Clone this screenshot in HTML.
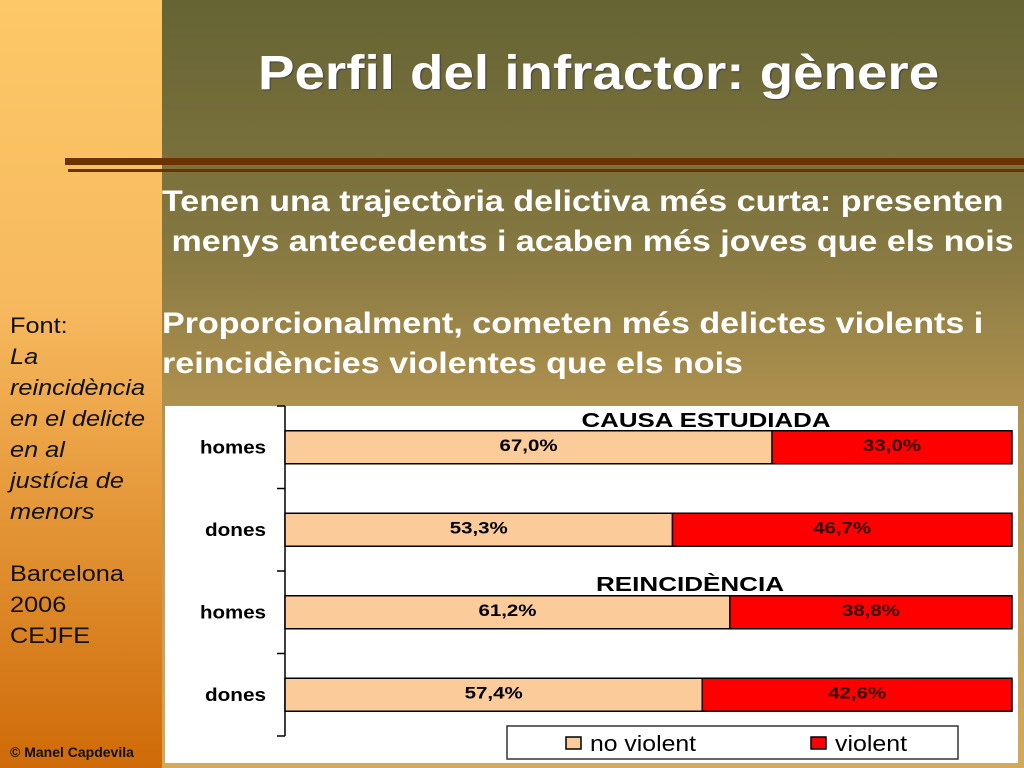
<!DOCTYPE html>
<html><head><meta charset="utf-8"><style>
body{margin:0;width:1024px;height:768px;overflow:hidden;position:relative;font-family:"Liberation Sans",sans-serif}
#left{position:absolute;left:0;top:0;width:162px;height:768px;background:linear-gradient(#fcc868 0%,#f7b95e 40%,#de8c2c 75%,#cf6a08 100%)}
#main{position:absolute;left:162px;top:0;width:862px;height:768px;background:linear-gradient(#666434 0%,#827640 30%,#b39450 55%,#d4a95a 100%)}
.t{position:absolute;color:#fff;font-weight:bold;transform-origin:0 0;white-space:nowrap}
.src{position:absolute;left:10px;font-size:22px;color:#111;line-height:31px;transform:scaleX(1.15);transform-origin:0 0;white-space:nowrap}
</style></head><body>
<div id="left"></div>
<div id="main"></div>
<div class="t" style="left:258px;top:46px;font-size:48px;transform:scaleX(1.14);text-shadow:1px 1px 1px #444">Perfil del infractor: gènere</div>
<div style="position:absolute;left:65px;top:158px;width:959px;height:7px;background:#6b3300"></div>
<div style="position:absolute;left:68px;top:169px;width:956px;height:3px;background:#6b3300"></div>
<div class="t" style="left:162px;top:182px;font-size:30px;line-height:40px;transform:scaleX(1.135)">Tenen una trajectòria delictiva més curta: presenten<br>&nbsp;menys antecedents i acaben més joves que els nois</div>
<div class="t" style="left:162px;top:304px;font-size:30px;line-height:40px;transform:scaleX(1.135)">Proporcionalment, cometen més delictes violents i<br>reincidències violentes que els nois</div>
<div class="src" style="top:310px">Font:<br><i>La<br>reincidència<br>en el delicte<br>en al<br>justícia de<br>menors</i><br><br>Barcelona<br>2006<br>CEJFE</div>
<div style="position:absolute;left:10px;top:744px;font-size:14px;font-weight:bold;color:#111">© Manel Capdevila</div>
<svg id="chart" style="position:absolute;left:0;top:0" width="1024" height="768"></svg>
<script>
const categories=["homes","dones","homes","dones"];
const noViolent=[67.0,53.3,61.2,57.4];
const violent=[33.0,46.7,38.8,42.6];
const labelsNo=["67,0%","53,3%","61,2%","57,4%"];
const labelsV=["33,0%","46,7%","38,8%","42,6%"];
const ns="http://www.w3.org/2000/svg";
const svg=document.getElementById('chart');
const FF='Liberation Sans, sans-serif';
function mk(t,a,p){const e=document.createElementNS(ns,t);for(const k in a)e.setAttribute(k,a[k]);(p||svg).appendChild(e);return e;}
const x0=285,x1=1012,yTop=406,yBot=736;
const xs=v=>x0+(v/100)*(x1-x0);
const band=(yBot-yTop)/categories.length;
const bg=mk('rect',{x:165,y:406,width:853,height:357,fill:'#fff'});


const ax=mk('line',{x1:x0,y1:yTop,x2:x0,y2:yBot,stroke:'#000','stroke-width':1.5});


for(let i=0;i<=categories.length;i++){const y=yTop+i*band;const tk=mk('line',{x1:x0-8,y1:y,x2:x0,y2:y,stroke:'#000','stroke-width':1.5});

}
categories.forEach((c,i)=>{
  const yc=yTop+band*(i+0.5), h=33, y=yc-h/2;
  const cl=mk('text',{x:266,y:yc+6,'text-anchor':'end','font-size':18,'font-weight':'bold','font-family':FF,textLength:c==='homes'?66:61,lengthAdjust:'spacingAndGlyphs'});cl.textContent=c;
  
  
  const a=mk('rect',{x:x0,y:y,width:xs(noViolent[i])-x0,height:h,fill:'#fbcb9a',stroke:'#000','stroke-width':1.5});
  
  
  const b=mk('rect',{x:xs(noViolent[i]),y:y,width:xs(noViolent[i]+violent[i])-xs(noViolent[i]),height:h,fill:'#ff0000',stroke:'#000','stroke-width':1.5});
  
  
  const t1=mk('text',{x:(x0+xs(noViolent[i]))/2,y:y+20,'text-anchor':'middle','font-size':17,'font-weight':'bold','font-family':FF,textLength:58,lengthAdjust:'spacingAndGlyphs'});t1.textContent=labelsNo[i];
  
  
  const t2=mk('text',{x:(xs(noViolent[i])+xs(noViolent[i]+violent[i]))/2,y:y+20,'text-anchor':'middle','font-size':17,'font-weight':'bold','fill':'#330000','font-family':FF,textLength:58,lengthAdjust:'spacingAndGlyphs'});t2.textContent=labelsV[i];
  
  
});
const g1=mk('text',{x:706,y:427,'text-anchor':'middle','font-size':20,'font-weight':'bold','font-family':FF,textLength:249,lengthAdjust:'spacingAndGlyphs'});g1.textContent='CAUSA ESTUDIADA';


const g2=mk('text',{x:690,y:591,'text-anchor':'middle','font-size':20,'font-weight':'bold','font-family':FF,textLength:188,lengthAdjust:'spacingAndGlyphs'});g2.textContent='REINCIDÈNCIA';


const lg=mk('rect',{x:507,y:726,width:451,height:33,fill:'#fff',stroke:'#333','stroke-width':1.5});


const s1=mk('rect',{x:566,y:737,width:15,height:12,fill:'#fbcb9a',stroke:'#000','stroke-width':1.5});


const l1=mk('text',{x:590,y:751,'font-size':22,'font-family':FF,textLength:106,lengthAdjust:'spacingAndGlyphs'});l1.textContent='no violent';


const s2=mk('rect',{x:811,y:737,width:15,height:12,fill:'#ff0000',stroke:'#000','stroke-width':1.5});


const l2=mk('text',{x:835,y:751,'font-size':22,'font-family':FF,textLength:72,lengthAdjust:'spacingAndGlyphs'});l2.textContent='violent';


</script>
</body></html>
